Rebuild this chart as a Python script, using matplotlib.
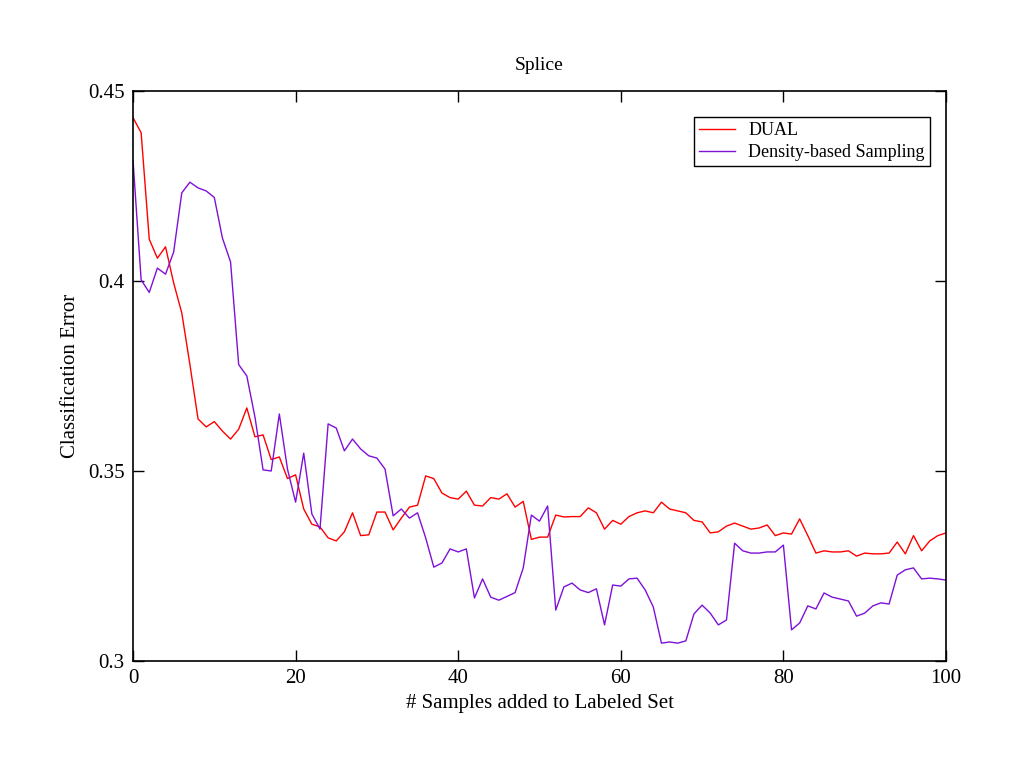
import matplotlib
matplotlib.use("Agg")
import matplotlib.pyplot as plt
import numpy as np

x = list(range(101))
dual = [0.443, 0.439, 0.411, 0.406, 0.409, 0.3995, 0.3916, 0.378, 0.3637, 0.3616,
        0.363, 0.3605, 0.3584, 0.361, 0.3666, 0.359, 0.3595, 0.353, 0.3537, 0.348,
        0.349, 0.340, 0.336, 0.3353, 0.3324, 0.3316, 0.334, 0.339, 0.333, 0.3332,
        0.3392, 0.3392, 0.3345, 0.3376, 0.3405, 0.341, 0.3487, 0.348, 0.3442, 0.343,
        0.3426, 0.3447, 0.341, 0.3408, 0.343, 0.3426, 0.344, 0.3405, 0.342, 0.332,
        0.3326, 0.3326, 0.3384, 0.3379, 0.338, 0.338, 0.3403, 0.339, 0.3347, 0.337,
        0.336, 0.338, 0.339, 0.3395, 0.339, 0.3418, 0.340, 0.3395, 0.339, 0.337,
        0.3366, 0.3337, 0.334, 0.3355, 0.3363, 0.3355, 0.3347, 0.335, 0.3358, 0.333,
        0.3337, 0.3334, 0.3374, 0.333, 0.3284, 0.329, 0.3287, 0.3287, 0.329, 0.3276,
        0.3284, 0.3282, 0.3282, 0.3284, 0.3313, 0.3282, 0.333, 0.329, 0.3316, 0.333,
        0.3337]
density = [0.4318, 0.4003, 0.397, 0.4034, 0.4018, 0.4076, 0.4232, 0.426, 0.4245, 0.4237,
           0.422, 0.4113, 0.405, 0.378, 0.375, 0.3642, 0.3503, 0.350, 0.365, 0.3505,
           0.3418, 0.3547, 0.3387, 0.3347, 0.3624, 0.3613, 0.3553, 0.3584, 0.3558, 0.354,
           0.3534, 0.3505, 0.3382, 0.340, 0.3376, 0.339, 0.3324, 0.3247, 0.3258, 0.3295,
           0.3287, 0.3295, 0.3166, 0.3216, 0.3168, 0.316, 0.317, 0.318, 0.3245, 0.3384,
           0.3368, 0.3408, 0.3134, 0.3195, 0.3205, 0.3187, 0.318, 0.319, 0.3095, 0.320,
           0.3197, 0.3216, 0.3218, 0.3187, 0.3142, 0.3047, 0.305, 0.3047, 0.3053, 0.3124,
           0.3147, 0.3126, 0.3095, 0.3108, 0.331, 0.329, 0.3284, 0.3284, 0.3287, 0.3287,
           0.3305, 0.3082, 0.310, 0.3145, 0.3137, 0.3179, 0.3168, 0.3163, 0.3158, 0.3118,
           0.3126, 0.3145, 0.3153, 0.315, 0.3226, 0.324, 0.3245, 0.3216, 0.3218, 0.3216,
           0.3213]
xticks = [0, 20, 40, 60, 80, 100]
yticks = [0.3, 0.35, 0.4, 0.45]
yticklabels = ["0.3", "0.35", "0.4", "0.45"]

plt.rcParams['font.family'] = ['Liberation Serif', 'DejaVu Serif']
fig = plt.figure(figsize=(10.24, 7.68), dpi=100)
ax = fig.add_axes([133/1024, 1-661/768, (946-133)/1024, (661-91)/768])
ax.plot(x, dual, color='#FF0000', lw=1.0, label='DUAL')
ax.plot(x, density, color='#7F10D8', lw=1.0, label='Density-based Sampling')
ax.set_xlim(0, 100)
ax.set_ylim(0.3, 0.45)
ax.set_xticks(xticks)
ax.set_xticklabels([str(t) for t in xticks])
ax.set_yticks(yticks)
ax.set_yticklabels(yticklabels)
ax.tick_params(direction='in', top=True, right=True, labelsize=15, length=8, width=1, pad=6)
for s in ax.spines.values():
    s.set_linewidth(1.2)
ax.set_xlabel('# Samples added to Labeled Set', fontsize=15, labelpad=4)
ax.set_ylabel('Classification Error', fontsize=15, labelpad=6)
ax.set_title('Splice', fontsize=14, pad=15)
leg = ax.legend(loc='upper right', bbox_to_anchor=(930/1024, 1-117/768), bbox_transform=fig.transFigure,
                fontsize=13, fancybox=False, framealpha=1, edgecolor='black', handlelength=2.0,
                borderaxespad=0, labelspacing=0.25, handletextpad=0.7, borderpad=0.3)
leg.get_frame().set_linewidth(1.0)
fig.savefig('out.png', dpi=100)
